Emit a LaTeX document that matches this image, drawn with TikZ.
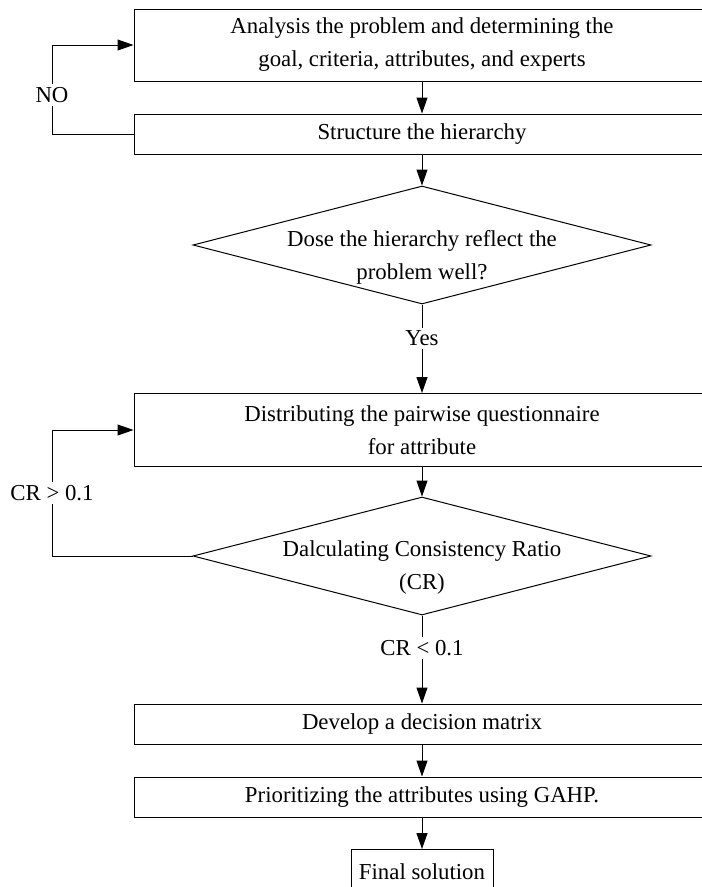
\documentclass[tikz,border=0pt]{standalone}
\usepackage{fontspec}
\setmainfont{Liberation Serif}
\usetikzlibrary{arrows.meta,shapes.geometric}
\tikzset{
  pbox/.style={rectangle,draw,line width=1pt,minimum width=576pt,align=center,inner sep=0pt},
  dbox/.style={diamond,draw,line width=1pt,minimum width=458pt,minimum height=118pt,inner sep=0pt},
  endbox/.style={rectangle,draw,line width=1pt,minimum width=142pt,minimum height=45pt,inner sep=0pt},
  dtext/.style={align=center,inner sep=0pt,yshift=-12pt},
  pe/.style={-{Triangle[length=16pt,width=11pt]},line width=1pt},
  pl/.style={line width=1pt},
  clbl/.style={fill=white,inner sep=3pt}
}

\begin{document}
\begin{tikzpicture}[x=1pt,y=-1pt,font=\fontsize{22.8}{33}\selectfont]
\useasboundingbox (0,0) rectangle (702,887);
\node[pbox,minimum height=72pt] (ana) at (422,45) {Analysis the problem and determining the\\goal, criteria, attributes, and experts};
\node[pbox,minimum height=40pt] (str) at (422,134) {Structure the hierarchy};
\node[dbox,label={[dtext]center:Dose the hierarchy reflect the\\problem well?}] (hier) at (422,245) {};
\node[pbox,minimum height=73pt] (dist) at (422,430) {Distributing the pairwise questionnaire\\for attribute};
\node[dbox,label={[dtext]center:Dalculating Consistency Ratio\\(CR)}] (cons) at (422,556) {};
\node[pbox,minimum height=40pt] (mat) at (422,724) {Develop a decision matrix};
\node[pbox,minimum height=40pt] (prio) at (422,797) {Prioritizing the attributes using GAHP.};
\node[endbox] (fin) at (422,872) {Final solution};
\coordinate (noturn) at (52,134);
\coordinate (crturn) at (52,556);
% main flow
\draw[pe] (ana) -- (str);
\draw[pe] (str) -- (hier);
\draw[pe] (hier) -- node[clbl,pos=0.38] {Yes} (dist);
\draw[pe] (dist) -- (cons);
\draw[pe] (cons) -- node[clbl,pos=0.37] {CR < 0.1} (mat);
\draw[pe] (mat) -- (prio);
\draw[pe] (prio) -- (fin);
% feedback loops
\draw[pe] (str.west) -- (noturn) |- node[clbl,pos=0.22] {NO} (ana.west);
\draw[pe] (cons.west) -- (crturn) |- node[clbl,pos=0.25] {CR > 0.1} (dist.west);
\end{tikzpicture}
\end{document}
